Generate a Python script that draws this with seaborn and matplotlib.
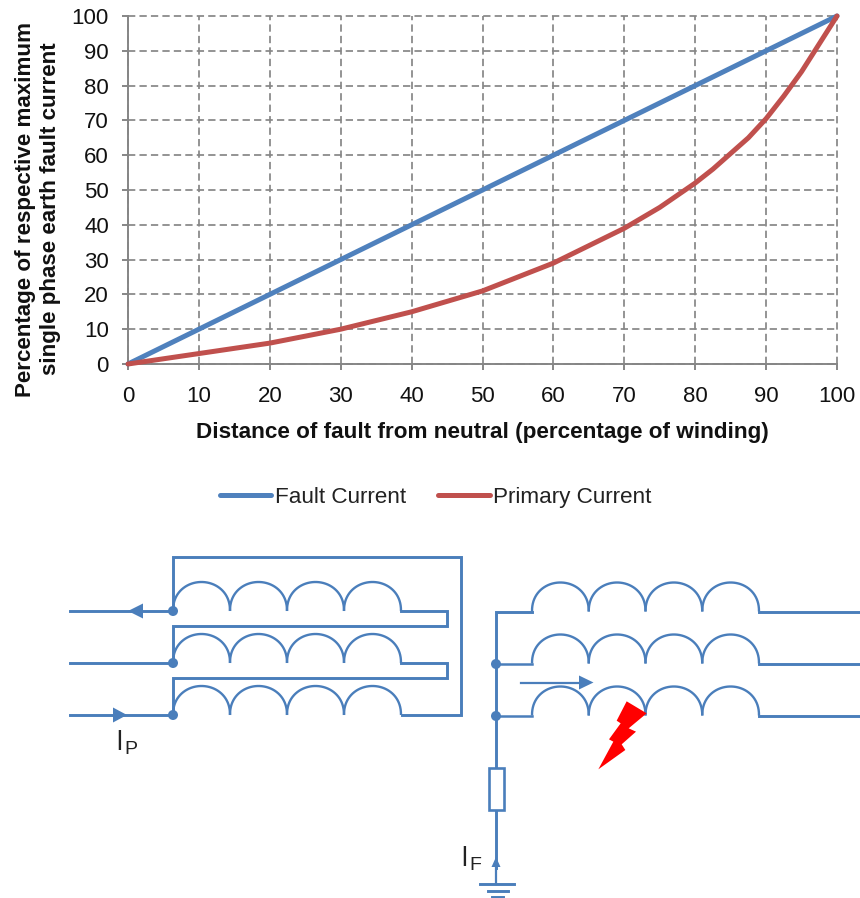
import numpy as np
import pandas as pd
import matplotlib
matplotlib.use('Agg')
import matplotlib.pyplot as plt
import seaborn as sns
from matplotlib.lines import Line2D
from matplotlib.patches import Polygon, Circle, Rectangle

# values
distance = [0, 5, 10, 15, 20, 25, 30, 35, 40, 45, 50, 55, 60, 65, 70, 75, 80,
            82.5, 85, 87.5, 90, 92.5, 95, 97.5, 100]
fault_current = [0, 5, 10, 15, 20, 25, 30, 35, 40, 45, 50, 55, 60, 65, 70, 75, 80,
                 82.5, 85, 87.5, 90, 92.5, 95, 97.5, 100]
primary_current = [0, 1.5, 3, 4.5, 6, 8, 10, 12.5, 15, 18, 21, 25, 29, 34, 39, 45, 52,
                   56, 60.5, 65, 70.5, 77, 84, 92, 100]
ticks = [0, 10, 20, 30, 40, 50, 60, 70, 80, 90, 100]

BLUE = '#4F81BD'
RED = '#C0504D'
WIRE = '#4A7EBB'
GREY = '#868686'

sns.set_theme(style='white')
plt.rcParams['font.family'] = ['Liberation Sans', 'DejaVu Sans']

W, H = 860, 898
fig = plt.figure(figsize=(W / 100, H / 100), dpi=100)
ax = fig.add_axes([128 / W, 1 - 364 / H, (837 - 128) / W, (364 - 16) / H])

df = pd.DataFrame({'distance': distance, 'Fault Current': fault_current,
                   'Primary Current': primary_current})

ax.grid(True, color=GREY, linestyle=(0, (4.2, 2.4)), linewidth=1.25)
for gl in ax.get_xgridlines() + ax.get_ygridlines():
    gl.set_clip_on(False)
sns.lineplot(data=df, x='distance', y='Fault Current', ax=ax, color=BLUE,
             linewidth=3.6, clip_on=False, zorder=5)
sns.lineplot(data=df, x='distance', y='Primary Current', ax=ax, color=RED,
             linewidth=3.6, clip_on=False, zorder=6)

ax.set_xlim(0, 100)
ax.set_ylim(0, 100)
ax.set_xticks(ticks)
ax.set_yticks(ticks)
ax.tick_params(axis='both', length=4.3, width=1.4, color=GREY, labelsize=16,
               labelcolor='#111111', bottom=True, left=True)
ax.tick_params(axis='x', pad=11.5)
ax.tick_params(axis='y', pad=9.5)
ax.set_xlabel('Distance of fault from neutral (percentage of winding)',
              fontsize=16.2, fontweight='bold', labelpad=10.5, color='#111111')
ax.set_ylabel('Percentage of respective maximum\nsingle phase earth fault current',
              fontsize=16.1, fontweight='bold', color='#111111', linespacing=1.25)
ax.yaxis.set_label_coords(-0.0945, 0.445)
for s in ['top', 'right']:
    ax.spines[s].set_visible(False)
for s in ['left', 'bottom']:
    ax.spines[s].set_color(GREY)
    ax.spines[s].set_linewidth(1.4)

handles = [Line2D([], [], color=BLUE, linewidth=3.6),
           Line2D([], [], color=RED, linewidth=3.6)]
fig.legend(handles, ['Fault Current', 'Primary Current'], ncol=2, frameon=False,
           loc='center', bbox_to_anchor=(435.5 / W, 1 - 497 / H), fontsize=16.2,
           handlelength=2.3, handletextpad=0.15, columnspacing=1.42,
           labelcolor='#222222')

# transformer diagram below the chart, drawn in pixel coordinates
sk = fig.add_axes([0, 0, 1, 1], facecolor='none')
sk.set_xlim(0, W)
sk.set_ylim(H, 0)
sk.axis('off')


def wire(xs, ys, lw=2.1):
    sk.plot(xs, ys, color=WIRE, linewidth=lw, solid_capstyle='projecting',
            solid_joinstyle='miter')


def coil(x0, x1, y):
    step = (x1 - x0) / 4
    for i in range(4):
        t = np.linspace(np.pi, 0, 40)
        cx = x0 + step * (i + 0.5)
        sk.plot(cx + step / 2 * np.cos(t), y - 29 * np.sin(t) ** 0.9, color=WIRE,
                linewidth=1.7, solid_capstyle='butt')


def arrow_head(tip_x, tip_y, dx, dy, half):
    # dx, dy run from the tip back to the base
    nx, ny = (half, 0) if dx == 0 else (0, half)
    sk.add_patch(Polygon([(tip_x, tip_y), (tip_x + dx + nx, tip_y + dy + ny),
                          (tip_x + dx - nx, tip_y + dy - ny)], closed=True,
                         facecolor=WIRE, edgecolor='none', zorder=4))


def dot(x, y, r=5):
    sk.add_patch(Circle((x, y), r, facecolor=WIRE, edgecolor='none', zorder=4))


# primary side
for y in [611, 663, 715]:
    coil(173, 401, y)
    wire([70, 173], [y, y])
    dot(173, y)
wire([173, 173, 461, 461, 402], [611, 557, 557, 715, 715])
wire([401, 447, 447, 173, 173], [611, 611, 626, 626, 663])
wire([401, 447, 447, 173, 173], [663, 663, 678, 678, 715])
arrow_head(128, 611, 15, 0, 7.5)
arrow_head(127, 715, -14, 0, 7.5)
sk.text(115, 743, 'I', fontsize=20, color='#222222', ha='left', va='center',
        family='Open Sans')
sk.text(124, 750, 'P', fontsize=14, color='#222222', ha='left', va='center',
        family='Liberation Sans')

# secondary side
for y in [611.5, 663.5, 715.5]:
    coil(532, 759, y)
    wire([759, 860], [y, y])
wire([532, 496, 496], [611.5, 611.5, 768])
wire([496, 532], [664, 664], 1.8)
wire([496, 532], [716, 716], 1.8)
dot(496, 664)
dot(496, 716)
sk.add_patch(Rectangle((488.5, 768), 15.5, 42, facecolor='white', edgecolor=WIRE,
                       linewidth=1.9, zorder=3))
wire([496, 496], [810, 868])
wire([496, 496], [868, 884], 1.6)
arrow_head(496, 857, 0, 10, 4.5)
wire([480, 514], [884, 884])
wire([488, 508], [890.5, 890.5])
wire([492, 503], [896.5, 896.5])
wire([521, 582], [682.5, 682.5], 1.6)
arrow_head(593.5, 682.5, -14.5, 0, 7)
sk.text(460, 859, 'I', fontsize=20, color='#222222', ha='left', va='center',
        family='Open Sans')
sk.text(469, 866, 'F', fontsize=14, color='#222222', ha='left', va='center',
        family='Liberation Sans')

bolt_zx = [560, 620, 566, 588, 545, 556, 475, 520, 507, 542, 530]
bolt_zy = [424, 460, 505, 515, 553, 570, 628, 545, 538, 490, 482]
sk.add_patch(Polygon([(440 + a / 3, 560 + b / 3) for a, b in zip(bolt_zx, bolt_zy)],
                     closed=True, facecolor='#FF0000', edgecolor='none', zorder=5))

fig.savefig('out.png', dpi=100)
